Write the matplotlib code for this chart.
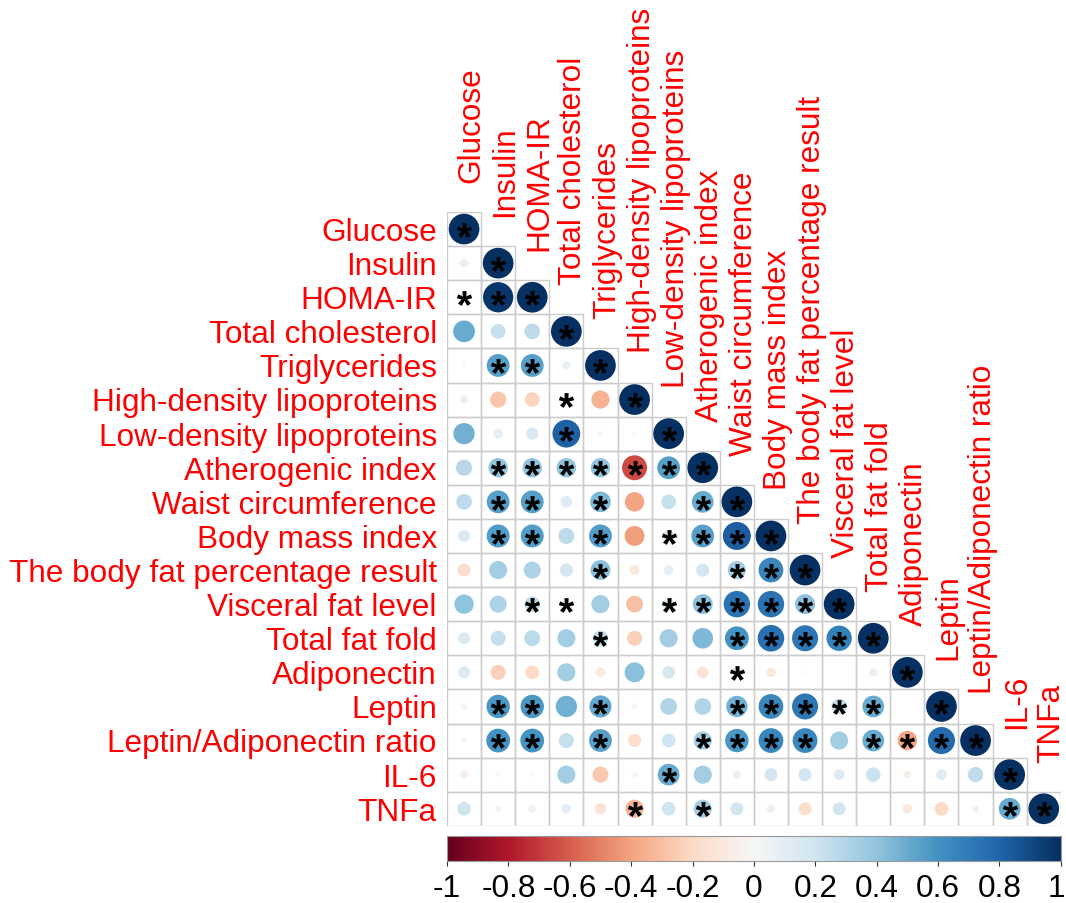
import numpy as np
import matplotlib
matplotlib.use("Agg")
import matplotlib.pyplot as plt
import matplotlib.transforms as mtrans
from matplotlib.patches import Circle, Rectangle
from matplotlib.textpath import TextPath
from matplotlib.font_manager import FontProperties
from matplotlib.path import Path

# variable names (rows and columns)
labels = ["Glucose", "Insulin", "HOMA-IR", "Total cholesterol", "Triglycerides",
          "High-density lipoproteins", "Low-density lipoproteins", "Atherogenic index",
          "Waist circumference", "Body mass index", "The body fat percentage result",
          "Visceral fat level", "Total fat fold", "Adiponectin", "Leptin",
          "Leptin/Adiponectin ratio", "IL-6", "TNFa"]

# lower triangle of the correlation matrix
corr_rows = [
    [1],
    [0.08, 1],
    [0.1, 0.97, 1],
    [0.5, 0.23, 0.26, 1],
    [0.01, 0.55, 0.55, 0.07, 1],
    [0.07, -0.28, -0.23, 0.1, -0.35, 1],
    [0.48, 0.1, 0.16, 0.82, -0.02, 0.01, 1],
    [0.28, 0.4, 0.4, 0.4, 0.4, -0.66, 0.55, 1],
    [0.26, 0.55, 0.55, 0.14, 0.45, -0.4, 0.23, 0.5, 1],
    [0.15, 0.56, 0.56, 0.27, 0.56, -0.42, 0.15, 0.55, 0.83, 1],
    [-0.18, 0.35, 0.31, 0.18, 0.42, -0.1, 0.1, 0.18, 0.35, 0.65, 1],
    [0.4, 0.31, 0.25, 0.1, 0.35, -0.3, 0.15, 0.42, 0.74, 0.74, 0.42, 1],
    [0.15, 0.24, 0.27, 0.35, 0.25, -0.24, 0.35, 0.45, 0.6, 0.75, 0.72, 0.68, 1],
    [0.15, -0.24, -0.2, 0.35, -0.1, 0.42, 0.17, -0.14, -0.12, -0.1, 0.01, 0.0, 0.07, 1],
    [0.04, 0.58, 0.58, 0.48, 0.52, -0.03, 0.3, 0.3, 0.48, 0.65, 0.72, 0.25, 0.5, 0.0, 1],
    [-0.03, 0.6, 0.6, 0.24, 0.55, -0.18, 0.2, 0.35, 0.58, 0.65, 0.65, 0.35, 0.5, -0.4, 0.78, 1],
    [-0.07, 0.02, 0.01, 0.35, -0.27, -0.03, 0.5, 0.35, 0.07, 0.18, 0.18, 0.12, 0.22, -0.06, 0.12, 0.25, 1],
    [0.2, 0.04, 0.06, 0.1, -0.14, -0.35, 0.2, 0.35, 0.18, 0.07, -0.18, 0.18, 0.0, -0.1, -0.2, -0.05, 0.5, 1],
]

# 1 = significant (marked with *)
star_rows = [
    [1],
    [0, 1],
    [1, 1, 1],
    [0, 0, 0, 1],
    [0, 1, 1, 0, 1],
    [0, 0, 0, 1, 0, 1],
    [0, 0, 0, 1, 0, 0, 1],
    [0, 1, 1, 1, 1, 1, 1, 1],
    [0, 1, 1, 0, 1, 0, 0, 1, 1],
    [0, 1, 1, 0, 1, 0, 1, 1, 1, 1],
    [0, 0, 0, 0, 1, 0, 0, 0, 1, 1, 1],
    [0, 0, 1, 1, 0, 0, 1, 1, 1, 1, 1, 1],
    [0, 0, 0, 0, 1, 0, 0, 0, 1, 1, 1, 1, 1],
    [0, 0, 0, 0, 0, 0, 0, 0, 1, 0, 0, 0, 0, 1],
    [0, 1, 1, 0, 1, 0, 0, 0, 1, 1, 1, 1, 1, 0, 1],
    [0, 1, 1, 0, 1, 0, 0, 1, 1, 1, 1, 0, 1, 1, 1, 1],
    [0, 0, 0, 0, 0, 0, 1, 0, 0, 0, 0, 0, 0, 0, 0, 0, 1],
    [0, 0, 0, 0, 0, 1, 0, 1, 0, 0, 0, 0, 0, 0, 0, 0, 1, 1],
]

cbar_ticks = [-1, -0.8, -0.6, -0.4, -0.2, 0, 0.2, 0.4, 0.6, 0.8, 1]
cbar_labels = ["-1", "-0.8", "-0.6", "-0.4", "-0.2", "0", "0.2", "0.4", "0.6", "0.8", "1"]

plt.rcParams['font.family'] = ['Liberation Sans', 'DejaVu Sans']

W, H = 1066, 904
x0, y0, cell = 447, 213, 34.1
n = len(labels)
fs = 22.7

fig = plt.figure(figsize=(W / 100, H / 100), dpi=100)
ax = fig.add_axes([x0 / W, 1 - (y0 + n * cell) / H, n * cell / W, n * cell / H])
ax.set_xlim(0, n)
ax.set_ylim(n, 0)
ax.axis('off')

cmap = plt.get_cmap('RdBu')

# grid cells + circles
for i, row in enumerate(corr_rows):
    for j, r in enumerate(row):
        ax.add_patch(Rectangle((j, i), 1, 1, fill=False, ec='#cccccc', lw=1, zorder=1))
        if abs(r) > 0:
            ax.add_patch(Circle((j + 0.5, i + 0.5), 0.45 * np.sqrt(abs(r)),
                                fc=cmap((r + 1) / 2), ec='none', zorder=2))

# asterisk marker centred on its own glyph outline
tp = TextPath((0, 0), "*", prop=FontProperties(family='Liberation Sans', weight='bold'))
codes = tp.codes
real = codes != Path.CLOSEPOLY
verts = tp.vertices.copy()
centre = (verts[real].min(0) + verts[real].max(0)) / 2
verts = verts - centre
verts[~real] = 0
star = Path(verts, codes)

sx, sy = [], []
for i, row in enumerate(star_rows):
    for j, s in enumerate(row):
        if s:
            sx.append(j + 0.5)
            sy.append(i + 0.52)
ax.scatter(sx, sy, marker=star, s=11 ** 2, c='black', linewidths=0, zorder=3)

# labels
for i, lab in enumerate(labels):
    ax.text(-0.3, i + 0.5 + 0.32, lab, ha='right', va='baseline', color='red',
            fontsize=fs, clip_on=False)
    ax.text(i + 0.5 + 0.44, i - 0.88, lab, rotation=90, rotation_mode='anchor',
            ha='left', va='baseline', color='red', fontsize=fs, clip_on=False)

# colour bar
cax = fig.add_axes([x0 / W, 1 - 862 / H, n * cell / W, 25 / H])
cax.imshow(np.linspace(-1, 1, 400)[None, :], cmap=cmap, aspect='auto',
           extent=[-1, 1, 0, 1], vmin=-1, vmax=1)
cax.set_xlim(-1, 1)
cax.set_yticks([])
cax.set_xticks(cbar_ticks)
cax.set_xticklabels(cbar_labels, fontsize=fs)
cax.tick_params(axis='x', length=3.5, color='#333333', pad=5)
for sp in cax.spines.values():
    sp.set_color('#999999')
    sp.set_linewidth(0.8)

# keep the last label inside the canvas
last = cax.get_xticklabels()[-1]
last.set_transform(last.get_transform() + mtrans.ScaledTranslation(-4 / 100, 0, fig.dpi_scale_trans))

fig.savefig("out.png", dpi=100)
